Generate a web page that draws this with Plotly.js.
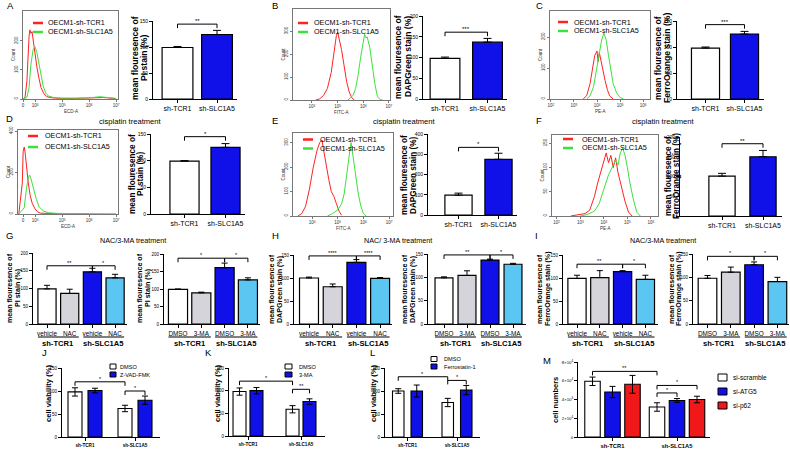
<!DOCTYPE html>
<html>
<head>
<meta charset="utf-8">
<script src="https://cdn.plot.ly/plotly-3.0.1.min.js"></script>
<style>
html,body{margin:0;padding:0;background:#ffffff;}
#fig{width:790px;height:449px;}
</style>
</head>
<body>
<div id="fig"></div>
<script>
// ======================= DATA =======================
// Flow cytometry histograms: x = log10 fluorescence intensity, y = cell count
const histLegend = ['OECM1-sh-TCR1', 'OECM1-sh-SLC1A5'];

const A_tcr_x = [3.56,3.63,3.70,3.74,3.78,3.81,3.85,3.89,3.93,4.00,4.07,4.15,4.22,4.33,4.44,4.63,4.93,5.50,6.00,6.30,6.50,6.70,7.00];
const A_tcr_y = [0,5,60,170,215,238,226,232,200,160,110,70,40,18,8,4,2,2,3,6,5,4,1];
const A_slc_x = [3.56,3.70,3.78,3.85,3.93,4.00,4.07,4.15,4.22,4.30,4.40,4.50,4.70,5.00,5.50,6.00,6.40,6.60,7.00];
const A_slc_y = [0,5,40,120,170,180,160,120,80,45,20,10,5,3,3,4,8,6,2];

const B_tcr_x = [4.15,4.30,4.45,4.60,4.75,4.85,4.95,5.00,5.05,5.15,5.25,5.35,5.45,5.55,5.65];
const B_tcr_y = [0,5,20,50,120,200,280,295,270,220,150,80,35,10,0];
const B_slc_x = [5.40,5.50,5.60,5.70,5.80,5.90,6.00,6.05,6.10,6.15,6.25,6.35,6.45,6.55,6.65,6.75];
const B_slc_y = [0,8,20,50,110,190,260,285,270,275,230,150,70,15,2,0];

const C_tcr_x = [3.40,3.55,3.70,3.80,3.90,4.00,4.05,4.10,4.15,4.25,4.35,4.45,4.55,4.70];
const C_tcr_y = [0,10,50,100,140,155,120,150,130,90,60,30,10,0];
const C_slc_x = [3.55,3.70,3.85,4.00,4.10,4.20,4.30,4.40,4.50,4.60,4.70,4.85,5.00,5.15];
const C_slc_y = [0,10,40,100,150,190,213,190,140,90,50,20,5,0];

const D_tcr_x = [3.40,3.53,3.56,3.60,3.63,3.68,3.75,3.82,3.90,4.00,4.10,4.20,4.50,5.00,6.00];
const D_tcr_y = [0,150,300,323,300,220,150,90,50,25,10,4,2,1,1];
const D_slc_x = [3.40,3.60,3.68,3.75,3.80,3.85,3.95,4.05,4.15,4.30,4.50,4.80,5.50,6.50,7.00];
const D_slc_y = [0,30,120,175,188,170,120,70,35,15,6,3,2,3,1];

const E_tcr_x = [3.45,3.60,3.75,3.90,4.05,4.20,4.30,4.39,4.45,4.55,4.65,4.75,4.85,4.95,5.05,5.15];
const E_tcr_y = [0,10,40,110,200,270,300,310,270,200,150,100,80,50,20,3];
const E_slc_x = [4.60,4.80,5.00,5.15,5.25,5.35,5.45,5.52,5.60,5.70,5.80,5.90,6.00,6.10];
const E_slc_y = [0,10,25,50,90,160,250,300,240,160,90,40,10,0];

const F_tcr_x = [2.60,2.90,3.20,3.40,3.60,3.75,3.90,4.00,4.10,4.20,4.30,4.40,4.50,4.60,4.75,4.90,5.05,5.20];
const F_tcr_y = [0,3,5,12,40,70,95,115,130,110,125,100,120,90,60,30,8,0];
const F_slc_x = [3.00,3.30,3.60,3.80,4.00,4.20,4.35,4.50,4.60,4.70,4.80,4.90,5.00,5.10,5.25,5.40,5.55];
const F_slc_y = [0,3,10,25,55,85,100,115,105,130,140,125,100,70,35,8,0];

// Mean fluorescence bar charts (%)
const shCats = ['sh-TCR1', 'sh-SLC1A5'];
const A_mean = [99, 124], A_sd = [2, 8];
const B_mean = [98, 137], B_sd = [3, 9];
const C_mean = [98, 125], C_sd = [2, 5];
const D_mean = [99, 125], D_sd = [1, 7];
const E_mean = [98, 275], E_sd = [10, 30];
const F_mean = [101, 150], F_sd = [7, 16];
const A_sig = [[0, 1, 144, '**']];
const B_sig = [[0, 1, 161, '***']];
const C_sig = [[0, 1, 143, '***']];
const D_sig = [[0, 1, 145, '*']];
const E_sig = [[0, 1, 334, '*']];
const F_sig = [[0, 1, 183, '**']];

// NAC / 3-MA treatment
const nacCats = ['vehicle', 'NAC', 'vehicle', 'NAC'];
const maCats = ['DMSO', '3-MA', 'DMSO', '3-MA'];
const groupCats = ['sh-TCR1', 'sh-SLC1A5'];
const G_nac_mean = [99, 86, 147, 130], G_nac_sd = [10, 12, 10, 10];
const G_ma_mean = [99, 89, 161, 126], G_ma_sd = [1, 2, 13, 6];
const H_nac_mean = [100, 81, 134, 99], H_nac_sd = [2, 6, 6, 2];
const H_ma_mean = [99, 104, 137, 128], H_ma_sd = [2, 10, 2, 2];
const I_nac_mean = [99, 101, 114, 97], I_nac_sd = [7, 15, 2, 9];
const I_ma_mean = [98, 111, 127, 91], I_ma_sd = [6, 11, 6, 9];
const G_nac_sig = [[0, 2, 164, '**'], [2, 3, 164, '*']];
const G_ma_sig = [[0, 2, 188, '*'], [2, 3, 188, '*']];
const H_nac_sig = [[0, 2, 148, '****'], [2, 3, 148, '****']];
const H_ma_sig = [[0, 2, 148, '**'], [2, 3, 148, '*']];
const I_nac_sig = [[0, 2, 130, '**'], [2, 3, 130, '*']];
const I_ma_sig = [[0, 2, 145, '*'], [2, 3, 145, '*']];

// Cell viability (%)
const J_series = ['DMSO', 'Z-VAD-FMK'];
const J_mean = [[98, 62], [101, 80]], J_sd = [[9, 7], [5, 9]];
const J_sig = [[0, 0, 1, 0, 120, '*'], [1, 0, 1, 1, 100, '*']];
const K_series = ['DMSO', '3-MA'];
const K_mean = [[98, 59], [100, 76]], K_sd = [[8, 8], [7, 6]];
const K_sig = [[0, 0, 1, 0, 121, '*'], [1, 0, 1, 1, 103, '**']];
const L_series = ['DMSO', 'Ferrostatin-1'];
const L_mean = [[100, 75], [100, 102]], L_sd = [[5, 9], [13, 10]];
const L_sig = [[0, 0, 1, 0, 131, '*'], [1, 0, 1, 1, 123, '*']];
// Cell numbers
const M_series = ['si-scramble', 'si-ATG5', 'si-p62'];
const M_mean = [[59400, 32000], [48000, 39000], [56200, 40000]];
const M_sd = [[4500, 4500], [6000, 2000], [9500, 3500]];
const M_sig = [[0, 0, 1, 0, 70000, '**'], [1, 0, 1, 2, 55000, '*'], [1, 0, 1, 1, 47000, '*']];
const M_yticks = [0, 20000, 40000, 60000, 80000];
const M_yticktext = ['0', '2×10<sup>4</sup>', '4×10<sup>4</sup>', '6×10<sup>4</sup>', '8×10<sup>4</sup>'];

// ======================= DRAWING =======================
const W = 790, H = 449;
const fx = p => p / W, fy = p => 1 - p / H;
const WHITE = '#ffffff', BLUE = '#1010e8', GRAY = '#d4d4da', LBLUE = '#5cc6f2', RED = '#f01818';
const HRED = '#ff2222', HGREEN = '#3ee03e';
const FONT = 'Liberation Sans, Arial, Helvetica, sans-serif';

const layout = {
  width: W, height: H, margin: {l: 0, r: 0, t: 0, b: 0},
  paper_bgcolor: '#ffffff', plot_bgcolor: 'rgba(0,0,0,0)',
  showlegend: false, barmode: 'group',
  font: {family: FONT, color: '#000', size: 7},
  annotations: [], shapes: []
};
const traces = [];
let nAx = 0;

function mkAxes(l, t, r, b, xo, yo) {
  nAx++;
  const s = nAx === 1 ? '' : String(nAx);
  layout['xaxis' + s] = Object.assign({domain: [fx(l), fx(r)], anchor: 'y' + s, showgrid: false, zeroline: false, fixedrange: true}, xo);
  layout['yaxis' + s] = Object.assign({domain: [fy(b), fy(t)], anchor: 'x' + s, showgrid: false, zeroline: false, fixedrange: true}, yo);
  return {x: 'x' + s, y: 'y' + s};
}
function txt(px, py, text, size, opt) {
  const o = Object.assign({xref: 'paper', yref: 'paper', x: fx(px), y: fy(py), text: text, showarrow: false,
    xanchor: 'center', yanchor: 'middle', font: {size: size, color: '#000', family: FONT}}, opt || {});
  layout.annotations.push(o);
}
function pline(x0, y0, x1, y1, color, width) {
  layout.shapes.push({type: 'line', xref: 'paper', yref: 'paper', x0: fx(x0), y0: fy(y0), x1: fx(x1), y1: fy(y1), line: {color: color, width: width}});
}
function prect(x0, y0, x1, y1, fill) {
  layout.shapes.push({type: 'rect', xref: 'paper', yref: 'paper', x0: fx(x0), y0: fy(y0), x1: fx(x1), y1: fy(y1), fillcolor: fill, line: {color: '#000', width: 1}});
}
function bracket(ax, x0, x1, yv, label, yPerPx, size) {
  const d = 4 * yPerPx;
  layout.shapes.push({type: 'path', xref: ax.x, yref: ax.y,
    path: 'M' + x0 + ',' + (yv - d) + ' L' + x0 + ',' + yv + ' L' + x1 + ',' + yv + ' L' + x1 + ',' + (yv - d),
    line: {color: '#000', width: 1}});
  layout.annotations.push({xref: ax.x, yref: ax.y, x: (x0 + x1) / 2, y: yv, text: label, showarrow: false,
    xanchor: 'center', yanchor: 'bottom', yshift: -2, font: {size: size || 6, color: '#000', family: FONT}});
}

const yAxBase = {showline: true, linecolor: '#000', linewidth: 1, ticks: 'outside', ticklen: 3, tickwidth: 1, tickcolor: '#000'};

// ---- histogram panel ----
function histPanel(o) {
  const ax = mkAxes(o.l, o.t, o.r, o.b,
    {range: o.xr, tickmode: 'array', tickvals: o.xtv, ticktext: o.xtt, showline: true, mirror: true, linecolor: '#777', linewidth: 1,
     ticks: 'outside', ticklen: 2, tickcolor: '#777', tickfont: {size: 4.5, color: '#333'}},
    {range: [0, o.ymax], tickmode: 'array', tickvals: o.ytv, ticktext: o.ytv.map(String), showline: true, mirror: true, linecolor: '#777', linewidth: 1,
     ticks: 'outside', ticklen: 2, tickcolor: '#777', tickangle: -90, tickfont: {size: 4.5, color: '#333'}});
  traces.push({type: 'scatter', mode: 'lines', xaxis: ax.x, yaxis: ax.y, x: o.tx, y: o.ty, line: {color: HRED, width: 1}, hoverinfo: 'skip'});
  traces.push({type: 'scatter', mode: 'lines', xaxis: ax.x, yaxis: ax.y, x: o.sx, y: o.sy, line: {color: HGREEN, width: 1}, hoverinfo: 'skip'});
  // legend
  pline(o.lg[0], o.lg[2], o.lg[1], o.lg[2], HRED, 2.5);
  pline(o.lg[0], o.lg[3], o.lg[1], o.lg[3], HGREEN, 2.5);
  txt(o.lg[4], o.lg[2], histLegend[0], 7.2, {xanchor: 'left'});
  txt(o.lg[4], o.lg[3], histLegend[1], 7.2, {xanchor: 'left'});
  txt(o.l - 10, (o.t + o.b) / 2, 'Count', 4.5, {textangle: -90, font: {size: 4.5, color: '#333', family: FONT}});
  txt((o.l + o.r) / 2, o.b + 12.5, o.xname, 4.5, {font: {size: 4.5, color: '#333', family: FONT}});
}

// ---- simple bar panel (one bar per category) ----
function barPanel(o) {
  const idx = o.cats.map((c, i) => i);
  const ax = mkAxes(o.l, o.t, o.r, o.b,
    Object.assign({range: [(o.l - o.c0) / o.dc, (o.r - o.c0) / o.dc], tickmode: 'array', tickvals: idx, ticktext: o.cats,
      tickfont: {size: o.catSize || 7}}, yAxBase),
    Object.assign({range: [0, o.ymax], tickmode: 'linear', tick0: 0, dtick: o.dtick, tickfont: {size: o.tickSize || 5}}, yAxBase));
  traces.push({type: 'bar', xaxis: ax.x, yaxis: ax.y, x: idx, y: o.means, width: o.width,
    marker: {color: o.colors, line: {color: '#000', width: 1.2}},
    error_y: {type: 'data', array: o.sds, arrayminus: o.sds.map(() => 0), symmetric: false, visible: true, color: '#000', thickness: 1, width: o.capw || 4},
    hoverinfo: 'skip'});
  const ypp = o.ymax / (o.b - o.t);
  o.sig.forEach(s => bracket(ax, s[0], s[1], s[2], s[3], ypp, o.sigSize));
  return ax;
}

// ---- grouped bar panel ----
function groupPanel(o) {
  const idx = groupCats.map((c, i) => i);
  const nS = o.series.length;
  const ax = mkAxes(o.l, o.t, o.r, o.b,
    Object.assign({range: [(o.l - o.c0) / o.dc, (o.r - o.c0) / o.dc], tickmode: 'array', tickvals: idx,
      ticktext: groupCats.map(c => '<b>' + c + '</b>'), tickfont: {size: o.catSize || 4.6}}, yAxBase),
    Object.assign({range: [0, o.ymax], tickmode: 'array', tickvals: o.ytv, ticktext: o.ytt, tickfont: {size: o.tickSize || 4.5}}, yAxBase));
  const cen = s => (s - (nS - 1) / 2) * o.pitch;
  o.series.forEach((name, s) => {
    traces.push({type: 'bar', name: name, xaxis: ax.x, yaxis: ax.y, x: idx, y: o.means[s], width: o.barw, offset: cen(s) - o.barw / 2,
      marker: {color: o.colors[s], line: {color: '#000', width: 1.1}},
      error_y: {type: 'data', array: o.sds[s], symmetric: true, visible: true, color: '#000', thickness: 1, width: 3},
      hoverinfo: 'skip'});
  });
  const ypp = o.ymax / (o.b - o.t);
  o.sig.forEach(s => bracket(ax, s[0] + cen(s[1]), s[2] + cen(s[3]), s[4], s[5], ypp, 5.5));
  // legend
  o.series.forEach((name, s) => {
    const y = o.lg[1] + s * o.lg[3];
    prect(o.lg[0], y - o.lg[4] / 2, o.lg[0] + o.lg[5], y + o.lg[4] / 2, o.colors[s]);
    txt(o.lg[2], y, name, o.lg[6], {xanchor: 'left'});
  });
  return ax;
}

// group labels under 4-bar charts
function groupLabels(ax, w, lineY, labY) {
  [[0, 1], [2, 3]].forEach((p, g) => {
    layout.shapes.push({type: 'line', xref: ax.x, yref: 'paper', x0: p[0] - w / 2, x1: p[1] + w / 2, y0: fy(lineY), y1: fy(lineY), line: {color: '#000', width: 1}});
    layout.annotations.push({xref: ax.x, yref: 'paper', x: (p[0] + p[1]) / 2, y: fy(labY), text: '<b>' + groupCats[g] + '</b>', showarrow: false,
      xanchor: 'center', yanchor: 'middle', font: {size: 7.6, color: '#000', family: FONT}});
  });
}
function ytitle(px, py, text, size) {
  txt(px, py, '<b>' + text + '</b>', size, {textangle: -90});
}

const sup = n => '10<sup>' + n + '</sup>';

// ----- Row 1 -----
histPanel({l: 23, t: 11, r: 118, b: 99, xr: [3.556, 7.07], xtv: [3.556, 4, 5, 6, 7], xtt: ['0', sup(4), sup(5), sup(6), sup(7)],
  ymax: 303, ytv: [0, 100, 200], tx: A_tcr_x, ty: A_tcr_y, sx: A_slc_x, sy: A_slc_y, lg: [33, 43, 23, 32, 46], xname: 'ECD-A'});
barPanel({l: 153, t: 21, r: 237, b: 99, c0: 177.5, dc: 39.5, ymax: 150, dtick: 50, cats: shCats, means: A_mean, sds: A_sd, colors: [WHITE, BLUE], width: 0.78, sig: A_sig});
ytitle(135, 58, 'mean flouresence of', 8.6); ytitle(144, 58, 'PI stain (%)', 8.6);

histPanel({l: 293, t: 9, r: 390, b: 100, xr: [3.26, 7.04], xtv: [4, 5, 6, 7], xtt: [sup(4), sup(5), sup(6), sup(7)],
  ymax: 396, ytv: [0, 100, 200, 300], tx: B_tcr_x, ty: B_tcr_y, sx: B_slc_x, sy: B_slc_y, lg: [298, 308, 23, 32, 312], xname: 'FITC-A'});
barPanel({l: 423, t: 16, r: 507, b: 99, c0: 445, dc: 42.5, ymax: 200, dtick: 50, cats: shCats, means: B_mean, sds: B_sd, colors: [WHITE, BLUE], width: 0.7, sig: B_sig});
ytitle(398, 57, 'mean flouresence of', 8.6); ytitle(408, 57, 'DAPGreen stain (%)', 8.6);

histPanel({l: 550, t: 11, r: 650, b: 99, xr: [1.96, 6.3], xtv: [2, 3, 4, 5, 6], xtt: [sup(2), sup(3), sup(4), sup(5), sup(6)],
  ymax: 284, ytv: [0, 100, 200], tx: C_tcr_x, ty: C_tcr_y, sx: C_slc_x, sy: C_slc_y, lg: [558, 568, 22, 31, 572], xname: 'PE-A'});
barPanel({l: 677, t: 21, r: 764, b: 99, c0: 705.5, dc: 39, ymax: 150, dtick: 50, cats: shCats, means: C_mean, sds: C_sd, colors: [WHITE, BLUE], width: 0.72, sig: C_sig});
ytitle(658, 58, 'mean flouresence of', 8.6); ytitle(667, 58, 'FerroOrange stain (%)', 8.6);

// ----- Row 2 -----
histPanel({l: 18, t: 130, r: 118, b: 214, xr: [3.37, 7.07], xtv: [3.556, 4, 5, 6, 7], xtt: ['0', sup(4), sup(5), sup(6), sup(7)],
  ymax: 405, ytv: [0, 200, 400], tx: D_tcr_x, ty: D_tcr_y, sx: D_slc_x, sy: D_slc_y, lg: [28, 38, 136, 147, 43], xname: 'ECD-A'});
barPanel({l: 151, t: 134, r: 245, b: 214, c0: 184.5, dc: 41, ymax: 150, dtick: 50, cats: shCats, means: D_mean, sds: D_sd, colors: [WHITE, BLUE], width: 0.71, sig: D_sig});
ytitle(132, 174, 'mean flouresence of', 8.2); ytitle(140, 174, 'PI stain (%)', 8.2);
txt(130, 121, 'cisplatin treatment', 7.6);

histPanel({l: 293, t: 133, r: 393, b: 216, xr: [3.26, 7.15], xtv: [4, 5, 6, 7], xtt: [sup(4), sup(5), sup(6), sup(7)],
  ymax: 339, ytv: [0, 100, 200, 300], tx: E_tcr_x, ty: E_tcr_y, sx: E_slc_x, sy: E_slc_y, lg: [303, 313, 139.5, 148.5, 318], xname: 'FITC-A'});
barPanel({l: 428, t: 134, r: 517, b: 215, c0: 458.5, dc: 40, ymax: 400, dtick: 100, cats: shCats, means: E_mean, sds: E_sd, colors: [WHITE, BLUE], width: 0.68, sig: E_sig});
ytitle(405, 175, 'mean flouresence of', 8.2); ytitle(414, 175, 'DAPGreen stain (%)', 8.2);
txt(405, 121, 'cisplatin treatment', 7.6);

histPanel({l: 552, t: 135, r: 658, b: 216, xr: [1.8, 6.3], xtv: [2, 3, 4, 5, 6], xtt: [sup(2), sup(3), sup(4), sup(5), sup(6)],
  ymax: 167, ytv: [0, 50, 100, 150], tx: F_tcr_x, ty: F_tcr_y, sx: F_slc_x, sy: F_slc_y, lg: [563, 573, 139, 148, 580], xname: 'PE-A'});
barPanel({l: 680, t: 137, r: 782, b: 216, c0: 722, dc: 41, ymax: 200, dtick: 50, cats: shCats, means: F_mean, sds: F_sd, colors: [WHITE, BLUE], width: 0.64, sig: F_sig});
ytitle(669, 176, 'mean flouresence of', 8.2); ytitle(677, 176, 'FerroOrange stain (%)', 8.2);
txt(663, 121, 'cisplatin treatment', 7.6);

// ----- Row 3 -----
const four = [WHITE, GRAY, BLUE, LBLUE];
let ax;
ax = barPanel({l: 33, t: 253, r: 127, b: 324, c0: 47, dc: 22.7, ymax: 200, dtick: 50, cats: nacCats, means: G_nac_mean, sds: G_nac_sd, colors: four, width: 0.8, sig: G_nac_sig, catSize: 6.4, tickSize: 4.5, capw: 3, sigSize: 5.5});
groupLabels(ax, 0.8, 337, 343);
ytitle(10, 288, 'mean flouresence of', 7.1); ytitle(18, 288, 'PI stain (%)', 7.1);
ax = barPanel({l: 164, t: 254, r: 260, b: 324, c0: 178, dc: 23.3, ymax: 200, dtick: 50, cats: maCats, means: G_ma_mean, sds: G_ma_sd, colors: four, width: 0.82, sig: G_ma_sig, catSize: 6.4, tickSize: 4.5, capw: 3, sigSize: 5.5});
groupLabels(ax, 0.82, 337, 343);
ytitle(140, 288, 'mean flouresence of', 7.1); ytitle(148, 288, 'PI stain (%)', 7.1);
txt(133, 240, 'NAC/3-MA treatment', 7.2);

ax = barPanel({l: 294, t: 255, r: 392, b: 324, c0: 309, dc: 23.7, ymax: 150, dtick: 50, cats: nacCats, means: H_nac_mean, sds: H_nac_sd, colors: four, width: 0.8, sig: H_nac_sig, catSize: 6.4, tickSize: 4.5, capw: 3, sigSize: 5.5});
groupLabels(ax, 0.8, 337, 343);
ytitle(272, 289, 'mean flouresence of', 7.1); ytitle(280, 289, 'DAPGreen stain (%)', 7.1);
ax = barPanel({l: 428, t: 254, r: 526, b: 324, c0: 444, dc: 23, ymax: 150, dtick: 50, cats: maCats, means: H_ma_mean, sds: H_ma_sd, colors: four, width: 0.78, sig: H_ma_sig, catSize: 6.4, tickSize: 4.5, capw: 3, sigSize: 5.5});
groupLabels(ax, 0.78, 337, 343);
ytitle(405, 289, 'mean flouresence of', 7.1); ytitle(413, 289, 'DAPGreen stain (%)', 7.1);
txt(398, 240, 'NAC/ 3-MA treatment', 7.2);

ax = barPanel({l: 563, t: 255, r: 658, b: 324, c0: 577, dc: 22.8, ymax: 150, dtick: 50, cats: nacCats, means: I_nac_mean, sds: I_nac_sd, colors: four, width: 0.8, sig: I_nac_sig, catSize: 6.4, tickSize: 4.5, capw: 3, sigSize: 5.5});
groupLabels(ax, 0.8, 337, 343);
ytitle(540, 289, 'mean flouresence of', 7.1); ytitle(548, 289, 'FerroOrange stain (%)', 7.1);
ax = barPanel({l: 693, t: 254, r: 789, b: 324, c0: 707.5, dc: 23.3, ymax: 150, dtick: 50, cats: maCats, means: I_ma_mean, sds: I_ma_sd, colors: four, width: 0.8, sig: I_ma_sig, catSize: 6.4, tickSize: 4.5, capw: 3, sigSize: 5.5});
groupLabels(ax, 0.8, 337, 343);
ytitle(672, 289, 'mean flouresence of', 7.1); ytitle(679, 289, 'FerroOrange stain (%)', 7.1);
txt(663, 240, 'NAC/3-MA treatment', 7.2);

// ----- Row 4 -----
const vt = [0, 50, 100, 150];
groupPanel({l: 62, t: 368, r: 160, b: 437, c0: 85, dc: 50, ymax: 150, ytv: vt, ytt: vt.map(String), series: J_series, means: J_mean, sds: J_sd,
  colors: [WHITE, BLUE], pitch: 0.4, barw: 0.28, sig: J_sig, lg: [110, 366.5, 118, 8, 5, 6, 5.6]});
ytitle(48, 394, 'cell viability (%)', 7.6);
groupPanel({l: 229, t: 368, r: 325, b: 436, c0: 248, dc: 53, ymax: 150, ytv: vt, ytt: vt.map(String), series: K_series, means: K_mean, sds: K_sd,
  colors: [WHITE, BLUE], pitch: 0.32, barw: 0.245, sig: K_sig, lg: [285, 366.5, 297, 8, 5, 7, 5.6]});
ytitle(217, 394, 'cell viability (%)', 7.6);
groupPanel({l: 385, t: 368, r: 480, b: 437, c0: 407.5, dc: 49.5, ymax: 150, ytv: vt, ytt: vt.map(String), series: L_series, means: L_mean, sds: L_sd,
  colors: [WHITE, BLUE], pitch: 0.374, barw: 0.232, sig: L_sig, lg: [431, 359, 442, 7.5, 5, 6, 5.6]});
ytitle(373, 394, 'cell viability (%)', 7.6);
groupPanel({l: 578, t: 362, r: 710, b: 437, c0: 612.5, dc: 64.5, ymax: 80000, ytv: M_yticks, ytt: M_yticktext, series: M_series, means: M_mean, sds: M_sd,
  colors: [WHITE, BLUE, RED], pitch: 0.31, barw: 0.24, sig: M_sig, catSize: 5.8, tickSize: 4.3, lg: [718, 377.5, 731, 14, 7, 9, 6.6]});
ytitle(555, 400, 'cell numbers', 7.5);

// panel letters
[['A', 5, 6], ['B', 270, 5], ['C', 534, 5], ['D', 4, 119], ['E', 270, 120], ['F', 534, 120], ['G', 4, 235], ['H', 270, 235], ['I', 533, 235],
 ['J', 40, 352], ['K', 203, 352], ['L', 368, 352], ['M', 541, 360]].forEach(p => txt(p[1], p[2], p[0], 9.5, {xanchor: 'left'}));

Plotly.newPlot('fig', traces, layout, {staticPlot: true, displayModeBar: false});
</script>
</body>
</html>
